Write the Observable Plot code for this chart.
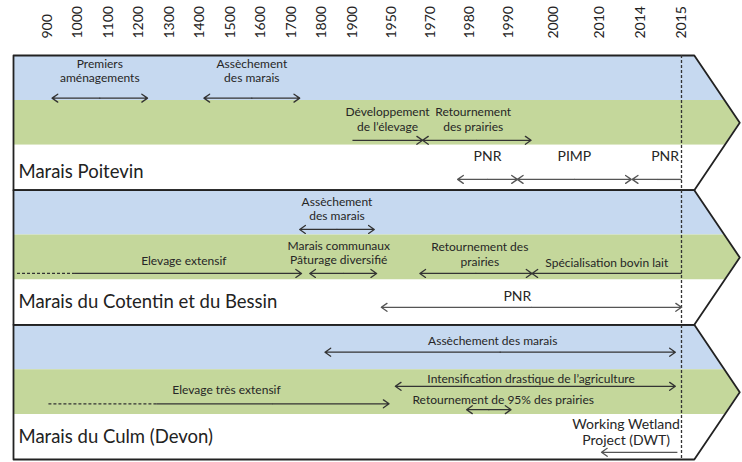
<!DOCTYPE html>
<html><head><meta charset="utf-8">
<script src="https://cdn.jsdelivr.net/npm/d3@7"></script>
<script src="https://cdn.jsdelivr.net/npm/@observablehq/plot@0.6"></script>
<style>body{margin:0;background:#fff}</style>
</head><body><div id="chart"></div>
<script>
// ---- data ----
const tickYears = [900,1000,1100,1200,1300,1400,1500,1600,1700,1800,1900,1950,1970,1980,1990,2000,2010,2014,2015];
const sites = ["Marais Poitevin", "Marais du Cotentin et du Bessin", "Marais du Culm (Devon)"];
const siteLabelLevel = [0.6, 0.49, 0.51];
const bandColors = ["#c6d9f0", "#c4d79b", "#ffffff"];

const poitevinEvents = [
  {band:0, start:915, end:1228, head:"both", label:"Premiers\naménagements", level:0.95, textLevel:0.33},
  {band:0, start:1413, end:1727, head:"both", label:"Assèchement\ndes marais", level:0.95, textLevel:0.33},
  {band:1, start:1900, end:1966, head:"end", label:"Développement\nde l’élevage", level:0.89, textLevel:0.41},
  {band:1, start:1966, end:1995, head:"both", label:"Retournement\ndes prairies", labelAt:1981, level:0.89, textLevel:0.41},
  {band:2, start:1977, end:1992, head:"both", label:"PNR", level:0.76, textLevel:0.23},
  {band:2, start:1992, end:2013.1, head:"both", label:"PIMP", level:0.76, textLevel:0.23},
  {band:2, start:2013.2, end:2015, head:"start", label:"PNR", labelAt:2014.6, level:0.76, textLevel:0.23}
];
const cotentinEvents = [
  {band:0, start:1727, end:1928, head:"both", label:"Assèchement\ndes marais", level:0.875, textLevel:0.40},
  {band:1, start:800, dashedUntil:990, end:1733, head:"end", label:"Elevage extensif", labelAt:1347, level:0.855, textLevel:0.57},
  {band:1, start:1760, end:1931, head:"both", label:"Marais communaux\nPâturage diversifié", labelAt:1855, level:0.855, textLevel:0.38},
  {band:1, start:1964.6, end:1995.2, head:"both", label:"Retournement des\nprairies", labelAt:1982.7, level:0.855, textLevel:0.42},
  {band:1, start:1995.2, end:2015, head:"start", label:"Spécialisation bovin lait", level:0.855, textLevel:0.61},
  {band:2, start:1937, end:2015, head:"both", label:"PNR", labelAt:1992, level:0.61, textLevel:0.35}
];
const culmEvents = [
  {band:0, start:1810, end:2014.85, head:"both", label:"Assèchement des marais", labelAt:1986, level:0.61, textLevel:0.35},
  {band:1, start:1952, end:2014.85, head:"both", label:"Intensification drastique de l’agriculture", labelAt:1995, level:0.37, textLevel:0.19},
  {band:1, start:903, dashedUntil:1257, end:1947, head:"end", label:"Elevage très extensif", labelAt:1487, level:0.76, textLevel:0.43},
  {band:1, start:1979.3, end:1990.6, head:"both", label:"Retournement de 95% des prairies", labelAt:1988.7, level:0.89, textLevel:0.65},
  {band:2, start:2010.2, end:2014.9, head:"start", label:"Working Wetland\nProject (DWT)", labelAt:2012.6, level:0.84, textLevel:0.39}
];
const siteEvents = [poitevinEvents, cotentinEvents, culmEvents];

// ---- layout helpers ----
// tick index -> horizontal unit (older ticks one unit apart, recent ticks wider apart)
const warp = d3.scaleLinear().domain([0, 10, 14, 16, 18]).range([0, 10, 15.11, 18.1, 20.79]);
function yearToU(y) {
  const t = tickYears, n = t.length;
  let idx;
  if (y <= t[0]) idx = (y - t[0]) / (t[1] - t[0]);
  else if (y >= t[n-1]) idx = (n-1) + (y - t[n-1]) / (t[n-1] - t[n-2]);
  else { const i = d3.bisectRight(t, y) - 1; idx = i + (y - t[i]) / (t[i+1] - t[i]); }
  return warp(idx);
}
const frame = {left: -1.115, corner: 21.21, tip: 22.70};

// chevron band areas
const bandPts = [];
const outline = [];
sites.forEach((s, p) => {
  const T = p*3, B = p*3+3, M = p*3+1.5;
  const span = frame.tip - frame.corner;
  const yTop = x => x <= frame.corner ? T : T + (M-T)*(x-frame.corner)/span;
  const yBot = x => x <= frame.corner ? B : B - (B-M)*(x-frame.corner)/span;
  for (let b = 0; b < 3; b++) {
    const bt = T + b, bb = T + b + 1;
    let xs = [frame.left, frame.corner, frame.tip];
    [bt, bb].forEach(v => {
      const f1 = (v - T)/(M - T); if (f1 > 0 && f1 < 1) xs.push(frame.corner + f1*span);
      const f2 = (B - v)/(B - M); if (f2 > 0 && f2 < 1) xs.push(frame.corner + f2*span);
    });
    xs = Array.from(new Set(xs)).sort((a,c)=>a-c);
    xs.forEach(x => {
      let y1 = Math.max(yTop(x), bt), y2 = Math.min(yBot(x), bb);
      if (y1 > y2) { const m = Math.min(Math.max(M, bt), bb); y1 = y2 = m; }
      bandPts.push({key: p*3+b, band: b, x, y1, y2});
    });
  }
  [[frame.left,T],[frame.corner,T],[frame.tip,M],[frame.corner,B],[frame.left,B],[frame.left,T]]
    .forEach(([x,y]) => outline.push({panel:p, x, y}));
});

// arrows and labels
const dashed = [], halves = [], labels = [];
siteEvents.forEach((evs, p) => {
  evs.forEach(e => {
    const y = p*3 + e.band + e.level;
    const x0 = yearToU(e.start), x1 = yearToU(e.end);
    const xd = e.dashedUntil !== undefined ? yearToU(e.dashedUntil) : x0;
    const col = e.band === 2 ? "#555" : "#333";
    if (xd !== x0) dashed.push({x1: x0, x2: xd, y, col});
    const mid = (xd + x1)/2;
    halves.push({x1: mid, x2: x1, y, col, head: e.head === "end" || e.head === "both"});
    halves.push({x1: mid, x2: xd, y, col, head: e.head === "start" || e.head === "both"});
    const lx = e.labelAt !== undefined ? yearToU(e.labelAt) : (x0 + x1)/2;
    labels.push({x: lx, y: p*3 + e.band + e.textLevel, text: e.label, size: e.band === 2 ? 14 : 12});
  });
});

const chart = Plot.plot({
  width: 742, height: 462, margin: 0,
  style: {fontFamily: "Lato, 'Open Sans', sans-serif", background: "#fff"},
  x: {domain: [0, warp(18)], range: [47, 681], axis: null},
  y: {domain: [0, 9], range: [55, 459], axis: null},
  marks: [
    Plot.area(bandPts, {x1: "x", y1: "y1", y2: "y2", z: "key", fill: d => bandColors[d.band], curve: "linear"}),
    Plot.line(outline, {x: "x", y: "y", z: "panel", stroke: "#222", strokeWidth: 1.8, curve: "linear"}),
    Plot.ruleX([yearToU(2015)], {y1: 0, y2: 9, stroke: "#333", strokeWidth: 1.3, strokeDasharray: "3,2"}),
    Plot.link(dashed, {x1: "x1", x2: "x2", y1: "y", y2: "y", stroke: "col", strokeWidth: 1.2, strokeDasharray: "3,2"}),
    Plot.link(halves.filter(d => !d.head), {x1: "x1", x2: "x2", y1: "y", y2: "y", stroke: "col", strokeWidth: 1.3}),
    Plot.arrow(halves.filter(d => d.head), {x1: "x1", x2: "x2", y1: "y", y2: "y", stroke: "col", strokeWidth: 1.3, headLength: 8, headAngle: 70}),
    Plot.text(labels.filter(d => d.size === 12), {x: "x", y: "y", text: "text", fontSize: 12, fill: "#262626", lineHeight: 1.2, textAnchor: "middle"}),
    Plot.text(labels.filter(d => d.size === 14), {x: "x", y: "y", text: "text", fontSize: 14, fill: "#262626", lineHeight: 1.15, textAnchor: "middle"}),
    Plot.text(tickYears, {x: (d, i) => warp(i), y: 0, dy: -17, rotate: -90, textAnchor: "start", text: d => String(d), fontSize: 14, fill: "#222"}),
    Plot.text(sites, {x: frame.left, dx: 5, y: (d, i) => i*3 + 2 + siteLabelLevel[i], text: d => d, textAnchor: "start", fontSize: 18.5, fill: "#222"})
  ]
});
document.getElementById("chart").appendChild(chart);
</script>
</body></html>
